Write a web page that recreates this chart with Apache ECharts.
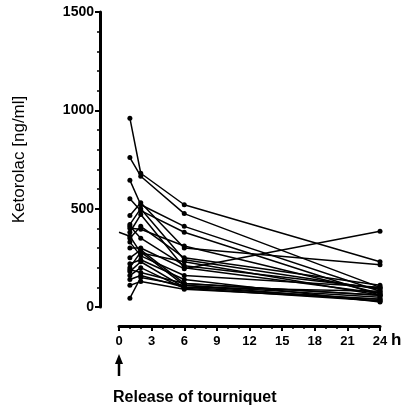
<!DOCTYPE html>
<html><head><meta charset="utf-8">
<script src="https://cdn.jsdelivr.net/npm/echarts@6/dist/echarts.min.js"></script>
<style>html,body{margin:0;padding:0;background:#fff}#c{width:409px;height:411px}</style>
</head><body><div id="c"></div>
<script>
var times = [1, 2, 6, 24];
var xTicks = [0, 3, 6, 9, 12, 15, 18, 21, 24];
var yTicks = [0, 500, 1000, 1500];
var subjA = [960, 680, 520, 230];
var subjB = [760, 665, 475, 100];
var subjC = [645, 520, 410, 80];
var subjD = [550, 490, 380, 60];
var subjE = [465, 530, 300, 215];
var subjF = [420, 500, 240, 90];
var subjG = [380, 470, 200, 70];
var subjH = [350, 410, 250, 110];
var subjI = [300, 300, 195, 385];
var subjJ = [250, 290, 120, 60];
var subjK = [200, 280, 110, 50];
var subjL = [180, 230, 100, 40];
var subjM = [160, 200, 95, 30];
var subjN = [140, 160, 100, 80];
var subjO = [110, 130, 90, 40];
var subjP = [45, 150, 110, 30];
var subjQ = [330, 260, 160, 100];
var subjR = [190, 175, 120, 60];
var subjS = [410, 350, 210, 95];
var subjT = [220, 240, 140, 25];
var subjU = [400, 395, 310, 70];
var subjVtimes = [0, 1, 2, 6, 24];
var subjV = [380, 360, 275, 230, 60];

var subjects = [subjA,subjB,subjC,subjD,subjE,subjF,subjG,subjH,subjI,subjJ,subjK,subjL,subjM,subjN,subjO,subjP,subjQ,subjR,subjS,subjT,subjU];
var series = subjects.map(function(s){
  return {type:'line', data: s.map(function(v,i){return [times[i], v];}),
    symbol:'circle', symbolSize:5, lineStyle:{color:'#000', width:1.5},
    itemStyle:{color:'#000'}, silent:true, animation:false};
});
series.push({type:'line', data: subjV.map(function(v,i){
    var d = {value:[subjVtimes[i], v]};
    if (subjVtimes[i] === 0) d.symbol = 'none';
    return d;}),
  symbol:'circle', symbolSize:5, lineStyle:{color:'#000', width:1.5},
  itemStyle:{color:'#000'}, silent:true, animation:false});

var chart = echarts.init(document.getElementById('c'), null, {renderer:'canvas'});
var fontBold = {fontFamily:'Liberation Sans, Arial', fontWeight:'bold', color:'#000'};
chart.setOption({
  animation:false,
  grid:{left:119, right:29, top:12, bottom:104},
  xAxis:{type:'value', min:0, max:24, interval:3, offset:19,
    axisLine:{show:true, onZero:false, lineStyle:{color:'#000', width:3}},
    axisTick:{show:true, length:5, lineStyle:{color:'#000', width:2}},
    minorTick:{show:true, splitNumber:3, length:3, lineStyle:{color:'#000', width:1.5}},
    axisLabel:Object.assign({fontSize:13, margin:9, formatter:function(v){return String(v);}}, fontBold),
    splitLine:{show:false}},
  yAxis:{type:'value', min:0, max:1500, interval:500, offset:19,
    name:'Ketorolac [ng/ml]', nameLocation:'middle', nameGap:72,
    nameTextStyle:{fontFamily:'Liberation Sans, Arial', fontSize:17, color:'#000'},
    axisLine:{show:true, onZero:false, lineStyle:{color:'#000', width:3}},
    axisTick:{show:true, length:5, lineStyle:{color:'#000', width:2}},
    minorTick:{show:true, splitNumber:5, length:3, lineStyle:{color:'#000', width:1.5}},
    axisLabel:Object.assign({fontSize:14, margin:6, formatter:function(v){return String(v);}}, fontBold),
    splitLine:{show:false}},
  series: series
});
var p0 = chart.convertToPixel({gridIndex:0}, [0, 0]);
var p24 = chart.convertToPixel({gridIndex:0}, [24, 0]);
chart.setOption({graphic:[
  {type:'text', left:p24[0]+11, top:p0[1]+25, style:{text:'h', font:'bold 17px Liberation Sans, Arial', fill:'#000'}},
  {type:'line', shape:{x1:p0[0], y1:p0[1]+69, x2:p0[0], y2:p0[1]+53}, style:{stroke:'#000', lineWidth:2.5}},
  {type:'polygon', shape:{points:[[p0[0]-4, p0[1]+57],[p0[0]+4, p0[1]+57],[p0[0], p0[1]+47]]}, style:{fill:'#000'}},
  {type:'text', left:p0[0]-6, top:p0[1]+83, style:{text:'Release of tourniquet', font:'bold 16px Liberation Sans, Arial', fill:'#000'}}
]});
</script></body></html>
